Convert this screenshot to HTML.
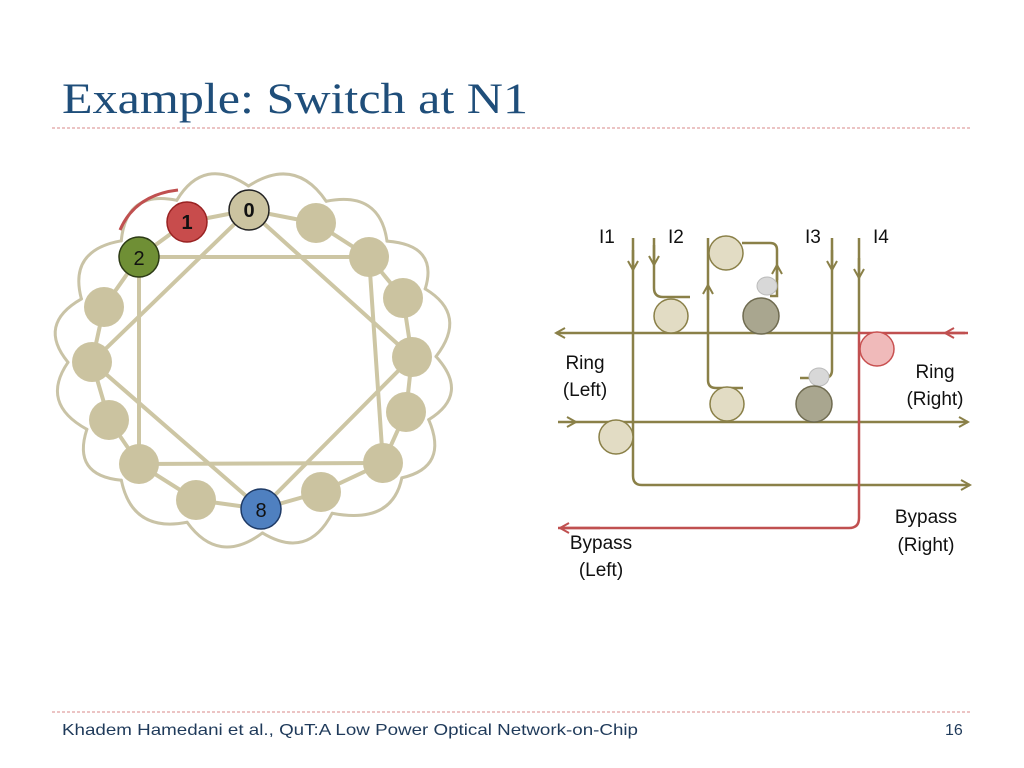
<!DOCTYPE html>
<html><head><meta charset="utf-8"><style>
html,body{margin:0;padding:0;background:#fff;width:1024px;height:768px;overflow:hidden}
svg{display:block}
.lab{font-family:"Liberation Sans",sans-serif;font-size:19px;fill:#111}
</style></head><body>
<svg id="s" width="1024" height="768" xmlns="http://www.w3.org/2000/svg">
<defs>
<marker id="ao" markerWidth="12" markerHeight="12" refX="10" refY="6" orient="auto" markerUnits="userSpaceOnUse"><path d="M1,1 L10,6 L1,11" fill="none" stroke="#8a8048" stroke-width="2"/></marker>
<marker id="ar" markerWidth="12" markerHeight="12" refX="10" refY="6" orient="auto" markerUnits="userSpaceOnUse"><path d="M1,1 L10,6 L1,11" fill="none" stroke="#c05050" stroke-width="2"/></marker>
</defs>
<text x="62" y="113" font-family="Liberation Serif,serif" font-size="43" fill="#1f4e7a" textLength="466" lengthAdjust="spacingAndGlyphs">Example: Switch at N1</text>
<line x1="52" y1="128" x2="972" y2="128" stroke="#e0a0a0" stroke-width="1.2" stroke-dasharray="3,2"/>
<line x1="52" y1="712" x2="972" y2="712" stroke="#e0a0a0" stroke-width="1.2" stroke-dasharray="3,2"/>
<text x="62" y="735" font-family="Liberation Sans,sans-serif" font-size="16" fill="#1f3a5a" textLength="576" lengthAdjust="spacingAndGlyphs">Khadem Hamedani et al., QuT:A Low Power Optical Network-on-Chip</text>
<text x="945" y="735" font-family="Liberation Sans,sans-serif" font-size="16" fill="#1f3a5a">16</text>

<g id="scal" fill="none" stroke="#c9c3a6" stroke-width="3" stroke-linecap="round"></g>
<path d="M120,230 Q135,195 178,190" fill="none" stroke="#c05050" stroke-width="3"/>
<g id="left" stroke="#cdc6a4" stroke-width="4" fill="none">
<polyline id="ring" points=""/>
<polygon points="139,257 369,257 383,463 139,464"/>
<polygon points="249,210 412,357 261,509 92,362"/>
</g>
<g id="nodes" fill="#cbc3a0"></g>
<g font-family="Liberation Sans,sans-serif" font-size="20" font-weight="bold" text-anchor="middle" fill="#111">
<circle cx="249" cy="210" r="20" fill="#cbc3a0" stroke="#222" stroke-width="1.5"/><text x="249" y="217">0</text>
<circle cx="187" cy="222" r="20" fill="#c84c4c" stroke="#922" stroke-width="1.5"/><text x="187" y="229">1</text>
<circle cx="139" cy="257" r="20" fill="#6f8f35" stroke="#2c3a15" stroke-width="1.5"/><text x="139" y="265" font-weight="normal">2</text>
<circle cx="261" cy="509" r="20" fill="#4f80c0" stroke="#1e3a66" stroke-width="1.5"/><text x="261" y="517" font-weight="normal">8</text>
</g>

<g fill="none" stroke="#8a8048" stroke-width="2.5">
<line x1="859" y1="333" x2="556" y2="333" marker-end="url(#ao)"/>
<line x1="558" y1="422" x2="576" y2="422" marker-end="url(#ao)"/>
<line x1="576" y1="422" x2="968" y2="422" marker-end="url(#ao)"/>
<path d="M633,238 V476 Q633,485 642,485 H970" marker-end="url(#ao)"/>
<path d="M654,238 V288 Q654,297 663,297 H690"/>
<path d="M708,238 V380 Q708,388 716,388 H743"/>
<path d="M742,243 H770 Q777,243 777,250 V296 H770"/>
<path d="M832,238 V370 Q832,378 824,378 H800"/>
<line x1="859" y1="238" x2="859" y2="333"/>
<line x1="633" y1="250" x2="633" y2="270" marker-end="url(#ao)"/>
<line x1="654" y1="245" x2="654" y2="265" marker-end="url(#ao)"/>
<line x1="832" y1="250" x2="832" y2="270" marker-end="url(#ao)"/>
<line x1="859" y1="258" x2="859" y2="278" marker-end="url(#ao)"/>
<line x1="708" y1="300" x2="708" y2="285" marker-end="url(#ao)"/>
<line x1="777" y1="280" x2="777" y2="265" marker-end="url(#ao)"/>
</g>
<g fill="none" stroke="#c05050" stroke-width="2.5">
<path d="M968,333 H859 V518 Q859,528 849,528 H558" />
<line x1="600" y1="528" x2="560" y2="528" marker-end="url(#ar)"/>
<line x1="965" y1="333" x2="945" y2="333" marker-end="url(#ar)"/>
</g>
<ellipse cx="767" cy="286" rx="10" ry="9" fill="#d8d8d8" stroke="#bbb"/>
<ellipse cx="819" cy="377" rx="10" ry="9" fill="#d8d8d8" stroke="#bbb"/>
<g stroke="#8a8048" stroke-width="1.5">
<circle cx="671" cy="316" r="17" fill="#e2dcc4"/>
<circle cx="726" cy="253" r="17" fill="#e2dcc4"/>
<circle cx="727" cy="404" r="17" fill="#e2dcc4"/>
<circle cx="616" cy="437" r="17" fill="#e2dcc4"/>
<circle cx="761" cy="316" r="18" fill="#a9a68f" stroke="#6f6b50"/>
<circle cx="814" cy="404" r="18" fill="#a9a68f" stroke="#6f6b50"/>
</g>
<circle cx="877" cy="349" r="17" fill="#f0baba" stroke="#c85050" stroke-width="1.5"/>
<text class="lab" x="599" y="243">I1</text>
<text class="lab" x="668" y="243">I2</text>
<text class="lab" x="805" y="243">I3</text>
<text class="lab" x="873" y="243">I4</text>
<text class="lab" x="585" y="369" text-anchor="middle">Ring</text>
<text class="lab" x="585" y="396" text-anchor="middle">(Left)</text>
<text class="lab" x="935" y="378" text-anchor="middle">Ring</text>
<text class="lab" x="935" y="405" text-anchor="middle">(Right)</text>
<text class="lab" x="926" y="523" text-anchor="middle">Bypass</text>
<text class="lab" x="926" y="551" text-anchor="middle">(Right)</text>
<text class="lab" x="601" y="549" text-anchor="middle">Bypass</text>
<text class="lab" x="601" y="576" text-anchor="middle">(Left)</text>
</svg>
<script>
var N=[[249,210],[187,222],[139,257],[104,307],[92,362],[109,420],[139,464],[196,500],[261,509],[321,492],[383,463],[406,412],[412,357],[403,298],[369,257],[316,223]];
var ns="http://www.w3.org/2000/svg";
var pts=N.map(function(p){return p.join(",")}).join(" ")+" "+N[0].join(",");
document.getElementById("ring").setAttribute("points",pts);
var g=document.getElementById("nodes");
N.forEach(function(p){var c=document.createElementNS(ns,"circle");c.setAttribute("cx",p[0]);c.setAttribute("cy",p[1]);c.setAttribute("r",20);g.appendChild(c);});
var cx=252,cy=360,sc=document.getElementById("scal");
function out(p,k){var dx=p[0]-cx,dy=p[1]-cy,d=Math.hypot(dx,dy);return [cx+dx*(d+k)/d,cy+dy*(d+k)/d];}
for(var i=0;i<16;i++){var a=N[i],b=N[(i+1)%16];
 var m=[(a[0]+b[0])/2,(a[1]+b[1])/2];
 var A=out(a,24),B=out(b,24),M=out(m,62);
 var pa=document.createElementNS(ns,"path");
 pa.setAttribute("d","M"+A[0]+","+A[1]+" Q"+M[0]+","+M[1]+" "+B[0]+","+B[1]);
 sc.appendChild(pa);}
</script>
</body></html>
